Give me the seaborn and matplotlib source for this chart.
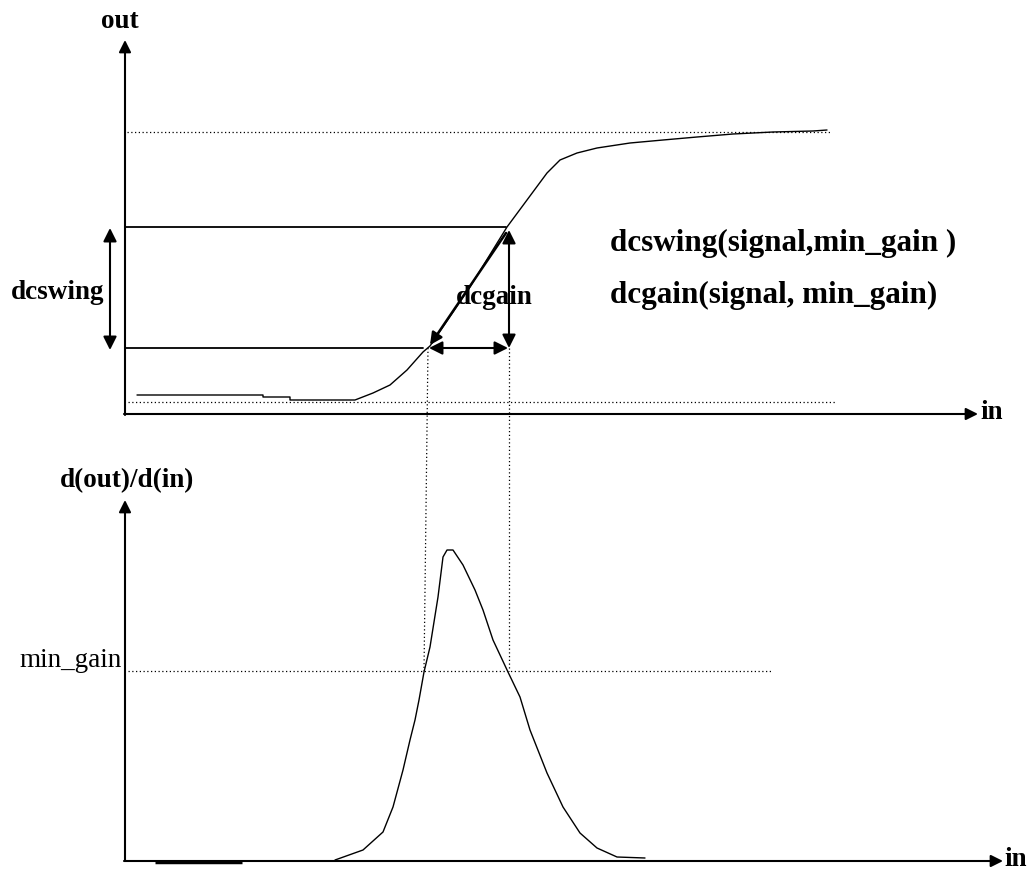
"""
dcswing / dcgain sketch: transfer curve out(in) with its min_gain window,
and the derivative d(out)/d(in) below it. Drawn in picture pixel units.
"""

import matplotlib
matplotlib.use("Agg")
import matplotlib.pyplot as plt
import seaborn as sns


# transfer curve out(in) (x to the right, y downwards)
out_x = [137, 263, 263, 290, 290, 355, 373, 390, 407, 423, 430, 470, 507,
         527, 547, 560, 577, 597, 630, 663, 697, 733, 773, 813, 827]
out_y = [395, 395, 397, 397, 400, 400, 393, 385, 370, 352, 346, 287, 227,
         200, 173, 160, 153, 148, 143, 140, 137, 134, 132, 131, 130]

# derivative d(out)/d(in)
gain_x = [335, 363, 383, 393, 403, 410, 415, 419, 424, 430, 438, 443, 447,
          453, 463, 475, 483, 493, 508, 520, 530, 547, 563, 580, 597, 617, 645]
gain_y = [860, 850, 832, 807, 770, 740, 720, 700, 672, 647, 597, 557, 550,
          550, 565, 590, 610, 640, 672, 697, 730, 773, 807, 833, 848, 857, 858]
# flat thick stub at the left of the derivative plot
stub_x = [155, 242]
stub_y = [862, 862]

# levels
out_high = 132
out_low = 402
swing_top = 227
swing_bot = 348
in_low = 427
in_high = 509
min_gain = 671

W, H = 1034, 871
sns.set_theme(style="white")
plt.rcParams["font.family"] = ["Liberation Serif", "DejaVu Serif"]
plt.rcParams["text.color"] = "black"

fig = plt.figure(figsize=(W / 100, H / 100), dpi=100)
ax = fig.add_axes([0, 0, 1, 1])
ax.set_xlim(0, W)
ax.set_ylim(H, 0)
ax.axis("off")

K = "black"
DOT = (0, (1, 2))
LAB = 19.5   # small bold labels
BIG = 22.4   # function calls on the right


def arrow(x0, y0, x1, y1, style="-|>", lw=1.5, ms=18):
    ax.annotate("", xy=(x1, y1), xytext=(x0, y0),
                arrowprops=dict(arrowstyle=style, color=K, lw=lw,
                                mutation_scale=ms, shrinkA=0, shrinkB=0))


# ---- top panel -------------------------------------------------------
arrow(125, 415, 125, 40)
arrow(124, 414, 978, 414)
ax.text(120, 22, "out", fontsize=LAB, fontweight="bold", ha="center", va="center", color=K)
ax.text(980, 412, "in", fontsize=LAB, fontweight="bold", ha="left", va="center", color=K)

ax.plot([127, 830], [out_high, out_high], color=K, lw=0.9, ls=DOT)
ax.plot([128, 835], [out_low, out_low], color=K, lw=0.9, ls=DOT)
ax.plot([125, in_high - 3], [swing_top, swing_top], color=K, lw=1.3)
ax.plot([125, in_low - 4], [swing_bot, swing_bot], color=K, lw=1.3)

sns.lineplot(x=out_x, y=out_y, sort=False, estimator=None, color=K, lw=1.0, ax=ax)

arrow(110, 288, 110, 228, ms=20)
arrow(110, 288, 110, 350, ms=20)
ax.text(58, 292, "dcswing", fontsize=LAB, fontweight="bold", ha="center", va="center", color=K)

arrow(in_high, 290, in_high, swing_top + 3, ms=20)
arrow(in_high, 290, in_high, swing_bot, ms=20)
arrow(470, swing_bot, in_low + 2, swing_bot, ms=20)
arrow(470, swing_bot, in_high - 1, swing_bot, ms=20)
arrow(in_high - 3, swing_top + 6, in_low + 3, swing_bot - 3, lw=1.8, ms=18)
ax.text(494, 297, "dcgain", fontsize=LAB, fontweight="bold", ha="center", va="center", color=K)

ax.text(610, 243, "dcswing(signal,min_gain )", fontsize=BIG, fontweight="bold",
        ha="left", va="center", color=K)
ax.text(610, 295, "dcgain(signal, min_gain)", fontsize=BIG, fontweight="bold",
        ha="left", va="center", color=K)

# guides linking the two panels
ax.plot([in_low + 1, in_low - 3], [swing_bot, min_gain], color=K, lw=0.9, ls=DOT)
ax.plot([in_high, in_high], [swing_bot, min_gain], color=K, lw=0.9, ls=DOT)

# ---- bottom panel ----------------------------------------------------
arrow(125, 861, 125, 500)
arrow(124, 861, 1003, 861)
ax.text(127, 481, "d(out)/d(in)", fontsize=LAB, fontweight="bold", ha="center", va="center", color=K)
ax.text(1004, 859, "in", fontsize=LAB, fontweight="bold", ha="left", va="center", color=K)

ax.plot([128, 773], [min_gain, min_gain], color=K, lw=0.9, ls=DOT)
ax.text(122, 660, "min_gain", fontsize=LAB, ha="right", va="center", color=K)

sns.lineplot(x=gain_x, y=gain_y, sort=False, estimator=None, color=K, lw=1.0, ax=ax)
ax.plot(stub_x, stub_y, color=K, lw=2.5, solid_capstyle="butt")

fig.savefig("out.png", dpi=100)
